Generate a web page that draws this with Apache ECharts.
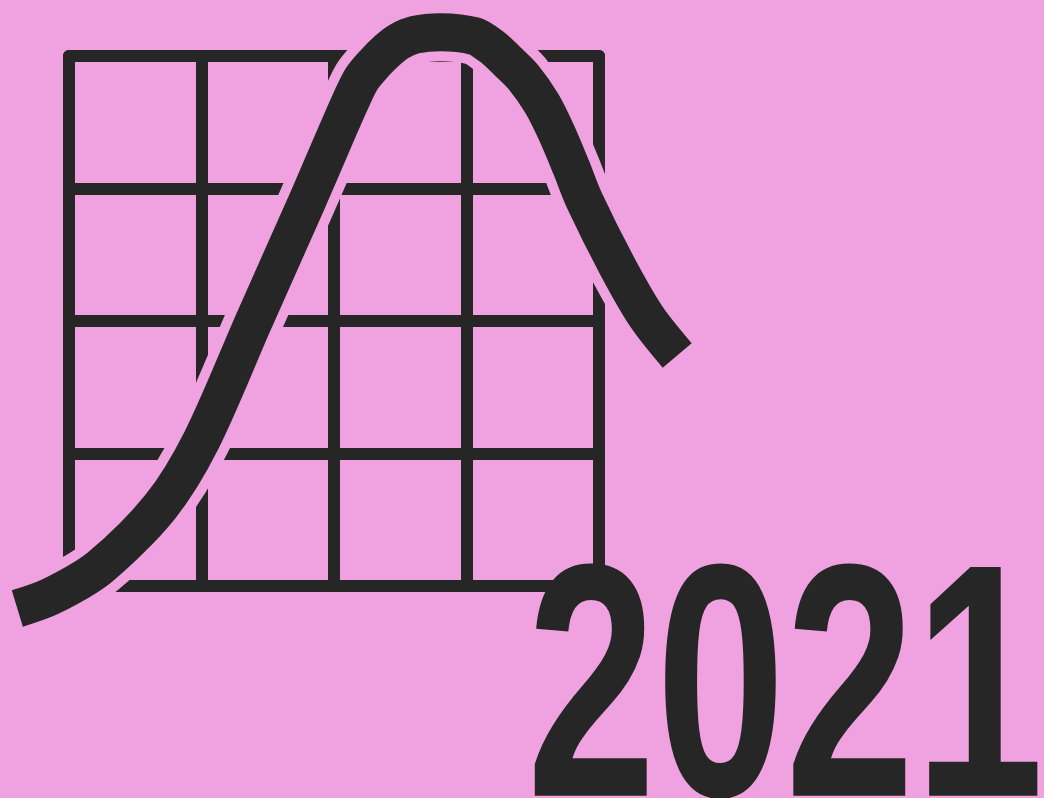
<!DOCTYPE html>
<html>
<head>
<meta charset="utf-8">
<script src="https://cdn.jsdelivr.net/npm/echarts@6/dist/echarts.min.js"></script>
<style>
  html, body { margin: 0; padding: 0; background: #f0a2e0; }
  #chart { width: 1044px; height: 798px; }
</style>
</head>
<body>
<div id="chart"></div>
<script>
// grid ticks (4 x 4 cells)
const gridTicks = [0, 1, 2, 3, 4];

// skewed bell curve in grid units
const curveX = [-0.39, -0.14, 0.23, 0.69, 1.00, 1.40, 1.80, 2.02, 2.13, 2.21, 2.31, 2.40, 2.49, 2.61, 2.80,
                3.06, 3.19, 3.31, 3.43, 3.57, 3.68, 3.79, 3.89, 4.14, 4.36, 4.59];
const curveY = [-0.17, -0.08, 0.14, 0.60, 1.10, 2.01, 2.91, 3.42, 3.67, 3.83, 3.95, 4.04, 4.11, 4.16, 4.18,
                4.15, 4.07, 3.96, 3.84, 3.64, 3.42, 3.16, 2.91, 2.41, 2.03, 1.74];

const yearLabel = '2021';

const PINK = '#f0a2e0';
const DARK = '#262626';

// plot box of the 4x4 grid (px)
const W = 1044, H = 798;
const gLeft = 69, gTop = 56, gSize = 530;
const unit = gSize / (gridTicks.length - 1);

const chart = echarts.init(document.getElementById('chart'));

const curveData = curveX.map((x, i) => [x, curveY[i]]);

// fit the big year label: condensed bold face, ink box 534..1038 x 562..798
function yearGraphic() {
  const ctx = document.createElement('canvas').getContext('2d');
  let family = '"Liberation Sans Narrow"';
  ctx.font = 'bold 100px monospace';
  const w0 = ctx.measureText(yearLabel).width;
  ctx.font = 'bold 100px "Liberation Sans Narrow", monospace';
  const w1 = ctx.measureText(yearLabel).width;
  if (Math.abs(w1 - w0) < 0.5) family = '"Liberation Sans"';

  ctx.textBaseline = 'middle';
  ctx.textAlign = 'left';
  ctx.font = 'bold 100px ' + family;
  let m = ctx.measureText(yearLabel);
  const size = 100 * 236 / (m.actualBoundingBoxAscent + m.actualBoundingBoxDescent);
  ctx.font = 'bold ' + size + 'px ' + family;
  m = ctx.measureText(yearLabel);
  const sx = 504 / (m.actualBoundingBoxLeft + m.actualBoundingBoxRight);
  return {
    type: 'text',
    x: 534 + m.actualBoundingBoxLeft * sx,
    y: 562 + m.actualBoundingBoxAscent,
    scaleX: sx,
    z: 10,
    style: {
      text: yearLabel,
      x: 0,
      y: 0,
      font: 'bold ' + size + 'px ' + family,
      fill: DARK,
      align: 'left',
      verticalAlign: 'middle',
      textAlign: 'left',
      textVerticalAlign: 'middle'
    }
  };
}

const hiddenAxis = {
  type: 'value',
  axisLine: { show: false },
  axisTick: { show: false },
  axisLabel: { show: false },
  splitLine: { show: false }
};
const gridAxis = {
  type: 'value',
  min: gridTicks[0],
  max: gridTicks[gridTicks.length - 1],
  interval: 1,
  axisLine: { show: false },
  axisTick: { show: false },
  axisLabel: { show: false },
  splitLine: { show: true, lineStyle: { color: DARK, width: 12, cap: 'round' } }
};

const option = {
  backgroundColor: PINK,
  animation: false,
  grid: [
    { left: gLeft, top: gTop, width: gSize, height: gSize },
    // full-canvas grid on the same scale, so the curve can leave the box
    { left: 0, top: 0, width: W, height: H }
  ],
  xAxis: [
    Object.assign({ gridIndex: 0 }, gridAxis),
    Object.assign({ gridIndex: 1, min: -gLeft / unit, max: (W - gLeft) / unit }, hiddenAxis)
  ],
  yAxis: [
    Object.assign({ gridIndex: 0 }, gridAxis),
    Object.assign({ gridIndex: 1, min: (gTop + gSize - H) / unit, max: (gTop + gSize) / unit }, hiddenAxis)
  ],
  series: [
    {
      // pink halo that cuts the grid where the curve crosses it
      type: 'line',
      xAxisIndex: 1,
      yAxisIndex: 1,
      data: curveData,
      smooth: 0.3,
      showSymbol: false,
      silent: true,
      z: 3,
      lineStyle: { color: PINK, width: 58, cap: 'butt' }
    },
    {
      type: 'line',
      xAxisIndex: 1,
      yAxisIndex: 1,
      data: curveData,
      smooth: 0.3,
      showSymbol: false,
      silent: true,
      z: 4,
      lineStyle: { color: DARK, width: 38, cap: 'butt' }
    }
  ],
  graphic: [yearGraphic()]
};

chart.setOption(option);
</script>
</body>
</html>
